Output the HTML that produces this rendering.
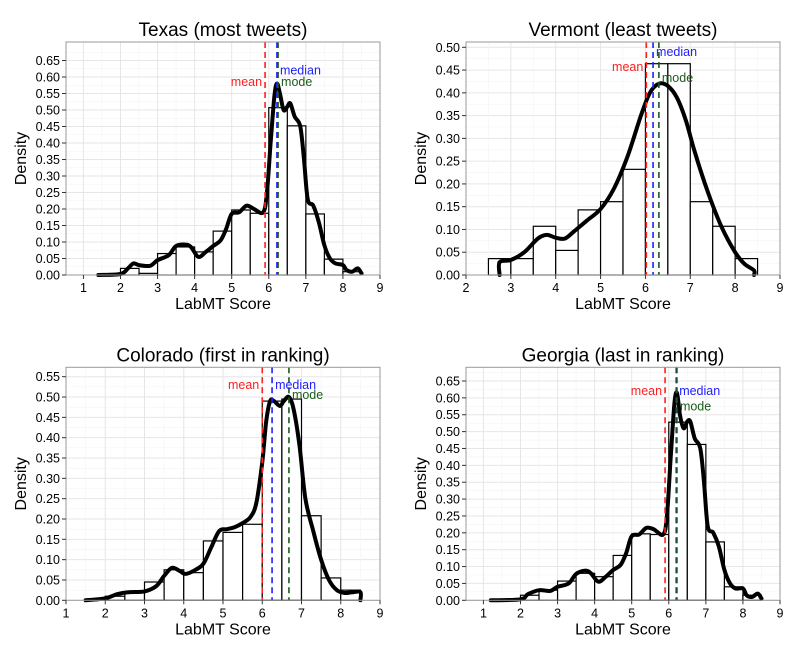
<!DOCTYPE html>
<html><head><meta charset="utf-8"><style>
body{margin:0;background:#fff;}
svg{display:block;font-family:"Liberation Sans",Arial,sans-serif;}
</style></head><body>
<svg id="c" width="800" height="650"></svg>
<script>
// Texas
const txBins=[0.003,0.02,0.005,0.065,0.085,0.07,0.133,0.197,0.187,0.507,0.452,0.185,0.048,0.01];
const txBinStart=1.5;
const txDx=[1.4,2.0,2.2,2.35,2.5,2.8,3.0,3.3,3.5,3.75,3.9,4.1,4.3,4.5,4.7,4.85,5.0,5.2,5.4,5.6,5.85,5.95,6.05,6.15,6.22,6.3,6.4,6.5,6.58,6.7,6.85,6.95,7.05,7.2,7.35,7.5,7.65,7.8,8.0,8.1,8.25,8.4,8.5];
const txDy=[0,0.003,0.02,0.035,0.03,0.028,0.045,0.06,0.088,0.092,0.085,0.055,0.07,0.088,0.105,0.14,0.185,0.19,0.21,0.2,0.19,0.25,0.40,0.54,0.58,0.55,0.5,0.51,0.52,0.48,0.45,0.35,0.23,0.21,0.16,0.09,0.05,0.035,0.03,0.015,0.01,0.02,0.005];
const txStats=[5.9,6.22,6.25];
// Vermont
const vtBins=[0.036,0.036,0.107,0.054,0.143,0.161,0.232,0.464,0.464,0.161,0.107,0.036];
const vtBinStart=2.5;
const vtDx=[2.75,2.75,3.0,3.3,3.6,3.8,4.0,4.2,4.4,4.7,5.0,5.3,5.6,5.9,6.1,6.3,6.5,6.7,6.9,7.1,7.4,7.7,8.0,8.2,8.42,8.42];
const vtDy=[0,0.028,0.033,0.05,0.08,0.088,0.082,0.08,0.095,0.12,0.145,0.19,0.26,0.35,0.40,0.42,0.415,0.39,0.34,0.27,0.18,0.105,0.05,0.025,0.01,0];
const vtStats=[6.02,6.17,6.3];
// Colorado
const coBins=[0.003,0.01,0.02,0.045,0.075,0.068,0.146,0.167,0.187,0.49,0.495,0.208,0.055,0.025];
const coBinStart=1.5;
const coDx=[1.5,2.0,2.3,2.6,3.0,3.3,3.5,3.7,3.9,4.05,4.3,4.5,4.7,4.9,5.1,5.3,5.5,5.7,5.85,6.0,6.1,6.2,6.3,6.45,6.55,6.68,6.8,6.95,7.1,7.3,7.5,7.7,7.9,8.1,8.3,8.5,8.5];
const coDy=[0,0.005,0.015,0.02,0.022,0.035,0.06,0.08,0.072,0.065,0.075,0.09,0.13,0.17,0.175,0.18,0.19,0.205,0.24,0.34,0.44,0.49,0.49,0.478,0.49,0.5,0.47,0.38,0.25,0.17,0.1,0.05,0.025,0.018,0.02,0.02,0];
const coStats=[6.0,6.25,6.68];
// Georgia
const gaBins=[0.003,0.015,0.03,0.057,0.08,0.07,0.133,0.197,0.195,0.528,0.462,0.173,0.04,0.015];
const gaBinStart=1.5;
const gaDx=[1.2,2.0,2.2,2.5,2.8,3.0,3.3,3.5,3.75,3.9,4.1,4.3,4.5,4.7,4.85,5.0,5.2,5.4,5.6,5.85,5.95,6.05,6.15,6.22,6.3,6.4,6.5,6.58,6.7,6.85,6.95,7.05,7.2,7.35,7.5,7.65,7.8,8.0,8.1,8.25,8.4,8.5];
const gaDy=[0,0.003,0.018,0.03,0.028,0.04,0.05,0.078,0.088,0.08,0.055,0.07,0.09,0.105,0.14,0.19,0.195,0.215,0.21,0.195,0.25,0.42,0.58,0.615,0.55,0.51,0.53,0.53,0.48,0.45,0.35,0.22,0.2,0.16,0.09,0.05,0.035,0.035,0.015,0.01,0.02,0.005];
const gaStats=[5.9,6.2,6.22];

const NS="http://www.w3.org/2000/svg";
const svg=document.getElementById('c');
function mk(tag,attrs,parent,text){const e=document.createElementNS(NS,tag);for(const k in attrs)e.setAttribute(k,attrs[k]);if(text!==undefined)e.textContent=text;(parent||svg).appendChild(e);return e;}

function smoothPath(P){
  let d='M'+P[0][0].toFixed(1)+','+P[0][1].toFixed(1);
  for(let i=0;i<P.length-1;i++){
    const p0=P[Math.max(0,i-1)],p1=P[i],p2=P[i+1],p3=P[Math.min(P.length-1,i+2)];
    const c1=[p1[0]+(p2[0]-p0[0])/6,p1[1]+(p2[1]-p0[1])/6];
    const c2=[p2[0]-(p3[0]-p1[0])/6,p2[1]-(p3[1]-p1[1])/6];
    d+=' C'+c1[0].toFixed(1)+','+c1[1].toFixed(1)+' '+c2[0].toFixed(1)+','+c2[1].toFixed(1)+' '+p2[0].toFixed(1)+','+p2[1].toFixed(1);
  }
  return d;
}

function panel(o){
  const g=mk('g',{});
  
  
  const L=o.left,R=o.right,T=o.top,B=o.bottom;
  const sx=v=>L+(v-o.xmin)/(o.xmax-o.xmin)*(R-L);
  const sy=v=>o.y0-(v/o.yref)*(o.y0-o.yrefPx);
  for(let v=0;v<=o.ymaxTick+0.03;v+=0.025){
    const y=sy(v);if(y<T)continue;
    const major=Math.round(v*1000)%50===0;
    mk('line',{x1:L,x2:R,y1:y,y2:y,stroke:major?'#e6e6e6':'#f3f3f3','stroke-width':major?1:0.6},g);
  }
  for(let v=Math.ceil(o.xmin*2)/2;v<=o.xmax;v+=0.5){
    const x=sx(v);const major=v%1===0;
    mk('line',{x1:x,x2:x,y1:T,y2:B,stroke:major?'#e6e6e6':'#f3f3f3','stroke-width':major?1:0.6},g);
  }
  o.bins.forEach((h,i)=>{
    const a=o.binStart+i*0.5;
    const b=mk('rect',{x:sx(a),y:sy(h),width:sx(a+0.5)-sx(a),height:B-sy(h),fill:'#fff',stroke:'#000','stroke-width':1.2},g);
    
    
  });
  const P=o.dx.map((x,i)=>[sx(x),sy(o.dy[i])]);
  const d=mk('path',{d:smoothPath(P),fill:'none',stroke:'#000','stroke-width':4,'stroke-linejoin':'round','stroke-linecap':'round'},g);
  
  
  const cols=['#ff2020','#2020ff','#1a5c1a'];
  const names=['mean-line','median-line','mode-line'];
  [0,1,2].forEach(k=>{
    const x=sx(o.stats[k]);
    const l=mk('line',{x1:x,x2:x,y1:T,y2:B,stroke:cols[k],'stroke-width':1.6,'stroke-dasharray':'6,4'},g);
    
    
  });
  const lbl=[['mean','end',-3],['median','start',3],['mode','start',3]];
  lbl.forEach((lb,k)=>{
    const t=mk('text',{x:sx(o.stats[k])+lb[2],y:sy(o.labY[k])+4,'text-anchor':lb[1],'font-size':12.5,fill:cols[k]},g,lb[0]);
    
    
  });
  mk('rect',{x:L,y:T,width:R-L,height:B-T,fill:'none',stroke:'#999','stroke-width':1},g);
  for(let v=0;v<=o.ymaxTick+1e-9;v+=0.05){
    const y=sy(v);
    mk('line',{x1:L-4,x2:L,y1:y,y2:y,stroke:'#333'},g);
    const t=mk('text',{x:L-6,y:y+4.5,'text-anchor':'end','font-size':12.5,fill:'#000'},g,v.toFixed(2));
    
    
  }
  for(let v=Math.ceil(o.xmin);v<=o.xmax;v++){
    const x=sx(v);
    mk('line',{x1:x,x2:x,y1:B,y2:B+4,stroke:'#333'},g);
    const t=mk('text',{x:x,y:B+17,'text-anchor':'middle','font-size':12.5,fill:'#000'},g,String(v));
    
    
  }
  const tt=mk('text',{x:(L+R)/2,y:T-6,'text-anchor':'middle','font-size':19,fill:'#000'},g,o.title);
  
  
  const xt=mk('text',{x:(L+R)/2,y:B+34,'text-anchor':'middle','font-size':16,fill:'#000'},g,'LabMT Score');
  
  
  const cy=(T+B)/2;
  const yt=mk('text',{x:o.ylabX,y:cy,'text-anchor':'middle','font-size':16,fill:'#000',transform:`rotate(-90 ${o.ylabX} ${cy})`},g,'Density');
  
  
}

panel({name:'texas-panel',title:'Texas (most tweets)',left:66,right:380,top:42,bottom:275,xmin:0.53,xmax:9,y0:275,yref:0.65,yrefPx:60.5,ymaxTick:0.65,
  bins:txBins,binStart:txBinStart,dx:txDx,dy:txDy,stats:txStats,labY:[0.585,0.62,0.585],ylabX:26});
panel({name:'vermont-panel',title:'Vermont (least tweets)',left:466,right:780,top:42,bottom:275,xmin:2,xmax:9,y0:275,yref:0.5,yrefPx:47.3,ymaxTick:0.5,
  bins:vtBins,binStart:vtBinStart,dx:vtDx,dy:vtDy,stats:vtStats,labY:[0.457,0.49,0.433],ylabX:426});
panel({name:'colorado-panel',title:'Colorado (first in ranking)',left:66,right:380,top:367.3,bottom:600.3,xmin:1,xmax:9,y0:600.3,yref:0.55,yrefPx:376.7,ymaxTick:0.55,
  bins:coBins,binStart:coBinStart,dx:coDx,dy:coDy,stats:coStats,labY:[0.53,0.53,0.505],ylabX:26});
panel({name:'georgia-panel',title:'Georgia (last in ranking)',left:466,right:780,top:367.3,bottom:600.3,xmin:0.53,xmax:9,y0:600.3,yref:0.65,yrefPx:381,ymaxTick:0.65,
  bins:gaBins,binStart:gaBinStart,dx:gaDx,dy:gaDy,stats:gaStats,labY:[0.62,0.62,0.575],ylabX:426});
</script>
</body></html>
